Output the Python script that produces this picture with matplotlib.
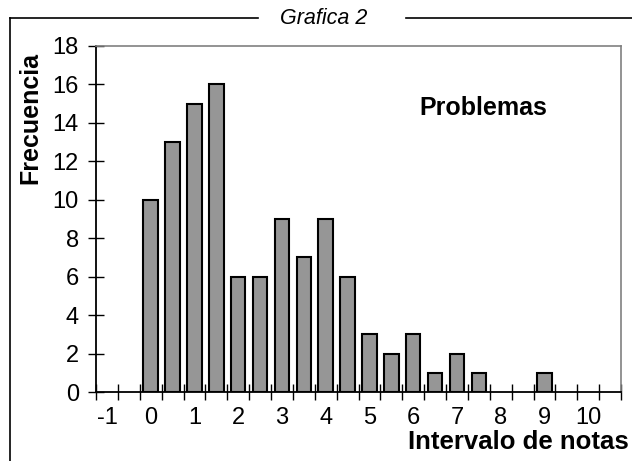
import numpy as np
import matplotlib
matplotlib.use('Agg')
import matplotlib.pyplot as plt
from matplotlib.lines import Line2D

# Datos (intervalos de notas y frecuencias)
intervalos = [-1, -0.5, 0, 0.5, 1, 1.5, 2, 2.5, 3, 3.5, 4, 4.5, 5, 5.5,
              6, 6.5, 7, 7.5, 8, 8.5, 9, 9.5, 10, 10.5]
frecuencias = [0, 0, 10, 13, 15, 16, 6, 6, 9, 7, 9, 6, 3, 2,
               3, 1, 2, 1, 0, 0, 1, 0, 0, 0]
etiquetas_x = ['-1', '0', '1', '2', '3', '4', '5', '6', '7', '8', '9', '10']
yticks = [0, 2, 4, 6, 8, 10, 12, 14, 16, 18]

plt.rcParams['font.family'] = ['Liberation Sans', 'DejaVu Sans']

W, H = 632, 461
fig = plt.figure(figsize=(W / 100, H / 100), dpi=100)
ax = fig.add_axes([96 / W, 1 - 392 / H, (621 - 96) / W, (392 - 46) / H])

pos = np.arange(len(intervalos))
frec = np.array(frecuencias)
mask = frec > 0
ax.bar(pos[mask], frec[mask], width=0.66, color='#969696',
       edgecolor='black', linewidth=1.5, zorder=3)

ax.set_xlim(-0.5, len(intervalos) - 0.5)
ax.set_ylim(0, 18)
ax.set_yticks(yticks)
ax.set_xticks(np.arange(len(intervalos) + 1) - 0.5)
ax.set_xticklabels([])
ax.set_xticks(pos[::2], minor=True)
ax.set_xticklabels(etiquetas_x, minor=True)

ax.tick_params(axis='y', direction='inout', length=11.5, width=1, labelsize=17, pad=6.5)
ax.tick_params(axis='x', which='major', direction='inout', length=11.5, width=1)
ax.tick_params(axis='x', which='minor', length=0, labelsize=17, pad=11)

for s in ['left', 'bottom']:
    ax.spines[s].set_color('black')
    ax.spines[s].set_linewidth(1.3)
for s in ['top', 'right']:
    ax.spines[s].set_color('#808080')
    ax.spines[s].set_linewidth(1.2)

# Textos
fig.text(30 / W, 1 - 118 / H, 'Frecuencia', rotation=90, fontsize=18,
         fontweight='bold', ha='center', va='center')
fig.text(483 / W, 1 - 108 / H, 'Problemas', fontsize=18,
         fontweight='bold', ha='center', va='center')
fig.text(629 / W, 1 - 449 / H, 'Intervalo de notas', fontsize=18.5,
         fontweight='bold', ha='right', va='baseline')
fig.text(324 / W, 1 - 18 / H, 'Grafica 2', fontsize=15.5, fontstyle='italic',
         ha='center', va='center')

# Marco exterior
marco = dict(color='black', linewidth=1.2, transform=fig.transFigure)
fig.lines.append(Line2D([10 / W, 10 / W], [0, 1 - 18 / H], **marco))
fig.lines.append(Line2D([10 / W, 258 / W], [1 - 18 / H, 1 - 18 / H], **marco))
fig.lines.append(Line2D([406 / W, 1], [1 - 18 / H, 1 - 18 / H], **marco))

plt.savefig('out.png', dpi=100)
plt.close()
